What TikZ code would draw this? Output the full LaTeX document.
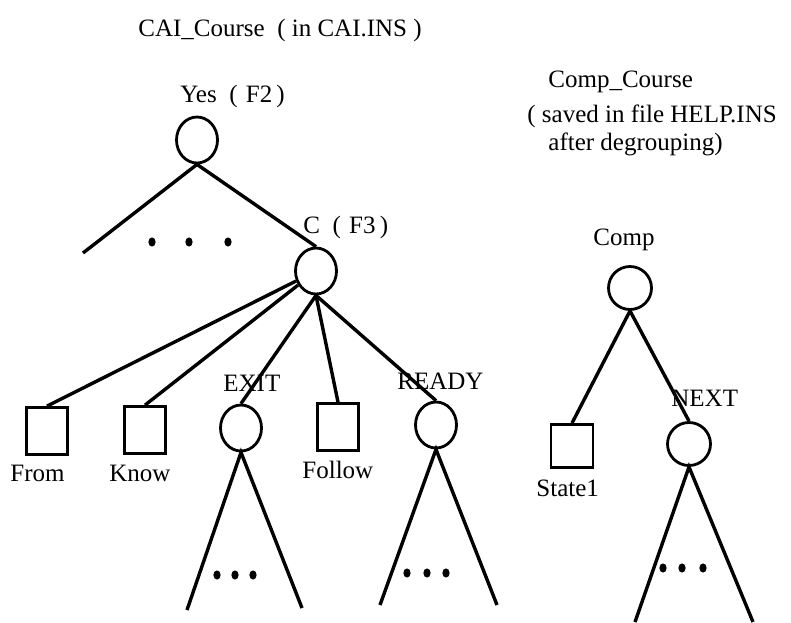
\documentclass[tikz,border=0pt]{standalone}
\usepackage{fontspec}
\setmainfont{Liberation Serif}
\usetikzlibrary{shapes.geometric}
\begin{document}
\begin{tikzpicture}[x=0.5pt,y=-0.5pt,
  every node/.style={font=\fontsize{12.5}{15}\selectfont},
  tnode/.style={draw, ellipse, line width=1.4pt, inner sep=0pt,
                minimum width=20.5pt, minimum height=23pt},
  rnode/.style={tnode, minimum width=21.5pt, minimum height=21.5pt},
  leaf/.style={draw, rectangle, line width=1.4pt, inner sep=0pt,
               minimum width=20.5pt, minimum height=23.5pt},
  lbl/.style={anchor=base west, inner sep=0pt},
  edge/.style={line width=1.7pt},
  dotmark/.style={x radius=1.8pt, y radius=2.3pt}
]
\useasboundingbox (0,0) rectangle (791,622);

% ---------- left tree: CAI_Course ----------
\node[lbl] (title) at (138,36) {CAI\_Course\ \ ( in CAI.INS )};

\node[tnode] (yes) at (197,140) {};
\node[lbl] (yeslbl) at (180,102) {Yes\ \ (\,\,F2\,)};

\node[tnode] (c) at (316,271) {};
\node[lbl] (clbl) at (303,233) {C\ \ (\,\,F3\,)};

\coordinate (yesL) at (83,253);
\draw[edge] (yes.south) -- (yesL);
\draw[edge] (yes.south) -- (c.north);
\foreach \x in {152,189,228} \fill (\x,242) ellipse [dotmark];

\node[leaf] (from) at (47,431) {};
\node[lbl] (fromlbl) at (10,481) {From};
\node[leaf] (know) at (145,430) {};
\node[lbl] (knowlbl) at (109,481) {Know};
\node[tnode] (exit) at (241,428) {};
\node[lbl] (exitlbl) at (223,391) {EXIT};
\node[leaf] (follow) at (338,427) {};
\node[lbl] (followlbl) at (302,478) {Follow};
\node[tnode] (ready) at (436,425) {};
\node[lbl] (readylbl) at (397,389) {READY};

\draw[edge] (c) -- (from.north);
\draw[edge] (c) -- (know.north);
\draw[edge] (c.south) -- (exit.north);
\draw[edge] (c.south) -- (follow.north);
\draw[edge] (c.south) -- (ready.north);

% subtree under EXIT
\coordinate (exitL) at (187,610);
\coordinate (exitR) at (302,608);
\draw[edge] (exitL) -- (exit.south) -- (exitR);
\foreach \x in {217,235,253} \fill (\x,575) ellipse [dotmark];

% subtree under READY
\coordinate (readyL) at (380,605);
\coordinate (readyR) at (497,605);
\draw[edge] (readyL) -- (ready.south) -- (readyR);
\foreach \x in {407,427,446} \fill (\x,573) ellipse [dotmark];

% ---------- right tree: Comp_Course ----------
\node[lbl] (ctitle1) at (548,87) {Comp\_Course};
\node[lbl] (ctitle2) at (527,122) {( saved in file HELP.INS};
\node[lbl] (ctitle3) at (548,150) {after degrouping)};

\node[rnode] (comp) at (630,288) {};
\node[lbl] (complbl) at (593,245) {Comp};

\node[leaf, minimum width=21pt, minimum height=21.5pt] (state) at (572,446) {};
\node[lbl] (statelbl) at (536,496) {State1};
\node[rnode] (next) at (689,444) {};
\node[lbl] (nextlbl) at (671,406) {NEXT};

\draw[edge] (comp.south) -- (state.north);
\draw[edge] (comp.south) -- (next.north);

% subtree under NEXT
\coordinate (nextL) at (635,622);
\coordinate (nextR) at (753,622);
\draw[edge] (nextL) -- (next.south) -- (nextR);
\foreach \x in {663,682,703} \fill (\x,568) ellipse [dotmark];
\end{tikzpicture}
\end{document}
